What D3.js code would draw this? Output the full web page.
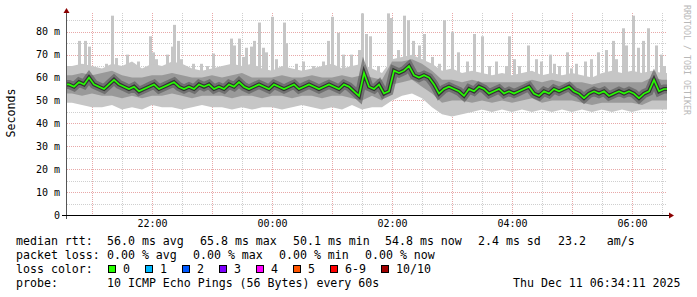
<!DOCTYPE html>
<html>
<head>
<meta charset="utf-8">
<script src="https://cdn.jsdelivr.net/npm/d3@7"></script>
<style>
  html, body { margin: 0; padding: 0; background: #fff; }
  svg { display: block; }
  text { font-family: "DejaVu Sans Mono", monospace; fill: #000; }
</style>
</head>
<body>
<svg id="chart" width="697" height="297"></svg>
<script>
// ---- data ----
const startTime = new Date(2025, 11, 10, 20, 35);
const endTime = new Date(2025, 11, 11, 6, 35);

// median rtt (ms), one value per 5 minutes
const medianRtt = [
  57, 56, 58, 57, 60, 57, 56, 55, 57, 59,
  57, 56, 55, 56, 54, 55, 56, 57, 55, 56,
  57, 58, 56, 55, 56, 55, 57, 56, 57, 55,
  56, 55, 57, 56, 58, 56, 55, 56, 57, 56,
  55, 57, 56, 55, 56, 57, 55, 56, 57, 56,
  55, 56, 57, 56, 55, 57, 56, 54, 52, 62,
  56, 55, 57, 53, 54, 63, 62, 63, 65, 61,
  60, 61, 60, 57, 53, 55, 56, 55, 54, 52,
  55, 54, 56, 55, 53, 54, 55, 53, 54, 53,
  54, 55, 56, 53, 52, 54, 53, 55, 54, 55,
  56, 54, 53, 51, 53, 54, 53, 54, 52, 53,
  54, 53, 54, 53, 51, 53, 54, 59, 54, 55
];

// smoke envelope (ms), one value per 10 minutes
const smokeMin = [
  49, 48, 47, 47, 48, 46, 47, 46, 48, 47,
  47, 46, 47, 48, 47, 47, 46, 47, 46, 47,
  47, 46, 47, 48, 47, 46, 47, 46, 48, 46,
  47, 47, 50, 52, 53, 51, 47, 44, 43, 44,
  45, 46, 45, 46, 45, 46, 45, 46, 45, 46,
  45, 46, 45, 46, 45, 46, 45, 46, 46, 46
];
const smokeMax = [
  65, 66, 65, 64, 66, 65, 67, 64, 66, 65,
  67, 66, 64, 63, 64, 65, 66, 65, 66, 64,
  63, 65, 64, 63, 64, 65, 66, 64, 65, 66,
  64, 62, 68, 69, 70, 68, 66, 63, 64, 62,
  63, 62, 61, 62, 61, 62, 63, 61, 62, 61,
  62, 61, 60, 62, 63, 62, 63, 62, 63, 62
];
const bandLo = [
  53, 52, 53, 52, 52, 51, 52, 51, 52, 52,
  53, 52, 51, 52, 52, 52, 51, 52, 52, 51,
  52, 52, 51, 52, 52, 51, 52, 52, 51, 50,
  52, 50, 57, 58, 59, 56, 53, 49, 50, 50,
  49, 50, 49, 50, 49, 50, 51, 49, 50, 50,
  50, 49, 48, 49, 49, 49, 49, 48, 50, 50
];
const bandHi = [
  61, 62, 61, 62, 63, 61, 60, 60, 61, 61,
  62, 61, 60, 60, 61, 60, 61, 62, 60, 60,
  60, 61, 60, 60, 61, 60, 60, 61, 60, 61,
  60, 59, 67, 67, 68, 66, 63, 59, 59, 58,
  59, 58, 58, 58, 58, 58, 59, 58, 59, 58,
  58, 58, 57, 58, 58, 58, 58, 58, 60, 59
];

// single slow pings sticking out of the smoke: minute after start, top (ms)
const spikeMinute = [
  12, 18, 22, 39, 45, 49, 54, 60, 66, 71, 83, 86, 89, 100, 105, 107, 111, 114, 126, 134, 140, 146,
  152, 164, 167, 172, 176, 179, 184, 187, 192, 196, 199, 205, 209, 217, 219, 229, 236, 246, 256, 261, 265, 271, 276, 284, 292, 295, 299,
  303, 311, 321, 324, 331, 337, 341, 346, 352, 357, 365, 372, 377, 385, 391, 400, 407, 415, 422, 429, 439, 442, 447,
  452, 461, 469, 474, 483, 487, 492, 500, 504, 509, 518, 524, 531, 539, 546, 549, 556, 559, 566, 571, 576, 581, 589, 594, 597
];
const spikeTop = [
  76, 76, 73.5, 66, 87, 68.5, 65, 70, 66, 67, 78, 71, 68, 70, 73.5, 83, 76, 68, 66, 66, 65, 70.5,
  64, 77, 74, 77, 69, 73, 73.5, 76, 84, 73, 71, 86.5, 68, 84, 75, 66, 67, 65, 67, 76, 86.5, 79.5, 70, 70, 72, 88, 79,
  78, 65, 88, 86, 72, 87, 85, 76, 74, 79, 69, 66, 85, 80, 71, 67, 79, 78, 65, 67, 65, 78, 68,
  65, 74, 68, 67, 70, 66, 65, 71, 64, 66, 67, 68, 71, 72, 76, 68, 81.5, 74, 87, 73, 76, 81.5, 74, 70, 65
];

const yTicks = [0, 10, 20, 30, 40, 50, 60, 70, 80];

const statsRow = [
  [16, "median rtt:"], [107, "56.0 ms avg"], [200, "65.8 ms max"], [293, "50.1 ms min"],
  [385, "54.8 ms now"], [478, "2.4 ms sd"], [558, "23.2   am/s"]
];
const lossRow = [
  [16, "packet loss:"], [107, "0.00 % avg"], [193, "0.00 % max"], [279, "0.00 % min"], [365, "0.00 % now"]
];
const lossLabels = ["0", "1", "2", "3", "4", "5", "6-9", "10/10"];
const lossColors = ["#26ff00", "#00b8ff", "#0059ff", "#7e00ff", "#ff00ff", "#ff5500", "#ff0000", "#a10000"];
const lossBoxX = [108, 145, 182, 219, 256, 293, 330, 381];
const probeRow = [[16, "probe:"], [107, "10 ICMP Echo Pings (56 Bytes) every 60s"], [513, "Thu Dec 11 06:34:11 2025"]];

// ---- scales ----
const svg = d3.select('#chart');
const x = d3.scaleTime().domain([startTime, endTime]).range([67, 667]);
const y = d3.scaleLinear().domain([0, 87.3]).range([215, 15]);

// points at the middle of each sampling step
function series(values, minutes) {
  return values.map(function (v, i) { return [d3.timeMinute.offset(startTime, i * minutes + minutes / 2), v]; });
}

// ---- grid ----
const grid = svg.append('g');
d3.range(5, 90, 5).forEach(function (v) {
  grid.append('line')
    .attr('x1', 67).attr('x2', 667).attr('y1', Math.round(y(v)) + 0.5).attr('y2', Math.round(y(v)) + 0.5)
    .attr('stroke', v % 10 === 0 ? '#e8a8a8' : '#cfcfcf').attr('stroke-dasharray', '1,1');
});
d3.timeMinute.every(30).range(startTime, endTime).forEach(function (t) {
  const px = Math.round(x(t)) + 0.5;
  grid.append('line')
    .attr('x1', px).attr('x2', px).attr('y1', 13).attr('y2', 215)
    .attr('stroke', t.getMinutes() === 0 ? '#e8a8a8' : '#cfcfcf').attr('stroke-dasharray', '1,1');
});

// ---- smoke ----
const plot = svg.append('g');
plot.selectAll('rect.spike').data(spikeMinute).enter().append('rect')
  .attr('class', 'spike')
  .attr('x', function (m) { return x(d3.timeMinute.offset(startTime, m)) - 1; })
  .attr('width', 3)
  .attr('y', function (m, i) { return y(spikeTop[i]); })
  .attr('height', function (m, i) { return y(56) - y(spikeTop[i]); })
  .attr('fill', '#c6c6c6');

const band = d3.area()
  .x(function (d) { return x(d.t); }).y0(function (d) { return y(d.lo); }).y1(function (d) { return y(d.hi); });

const envPts = series(smokeMax, 10).map(function (p, i) { return { t: p[0], hi: p[1], lo: smokeMin[i] }; });
envPts.unshift({ t: startTime, hi: smokeMax[0], lo: smokeMin[0] });
envPts.push({ t: endTime, hi: smokeMax[smokeMax.length - 1], lo: smokeMin[smokeMin.length - 1] });
plot.append('path').datum(envPts).attr('fill', '#c6c6c6').attr('d', band);

const bandPts = series(bandHi, 10).map(function (p, i) { return { t: p[0], hi: p[1], lo: bandLo[i] }; });
bandPts.unshift({ t: startTime, hi: bandHi[0], lo: bandLo[0] });
bandPts.push({ t: endTime, hi: bandHi[bandHi.length - 1], lo: bandLo[bandLo.length - 1] });
plot.append('path').datum(bandPts).attr('fill', '#999').attr('d', band);

const medLine = d3.line()
  .x(function (d) { return x(d[0]); }).y(function (d) { return y(d[1]); });
const medPts = series(medianRtt, 5);
medPts.unshift([startTime, medianRtt[0]]);
medPts.push([endTime, medianRtt[medianRtt.length - 1]]);
plot.append('path').datum(medPts)
  .attr('fill', 'none').attr('stroke', '#555').attr('stroke-width', 9).attr('stroke-opacity', 0.6)
  .attr('d', medLine);
plot.append('path').datum(medPts)
  .attr('fill', 'none').attr('stroke', '#1a1a1a').attr('stroke-width', 4).attr('stroke-opacity', 0.7)
  .attr('d', medLine);
plot.append('path').datum(medPts)
  .attr('fill', 'none').attr('stroke', '#26ff00').attr('stroke-width', 1.6)
  .attr('d', medLine);

// ---- axes ----
const yAxis = svg.append('g').attr('transform', 'translate(61,0)')
  .call(d3.axisLeft(y).tickValues(yTicks).tickSize(0).tickPadding(1)
    .tickFormat(function (v) { return v === 0 ? '0' : v + ' m'; }));
yAxis.select('.domain').remove();
yAxis.selectAll('text').style('font-family', '"DejaVu Sans Mono", monospace').style('font-size', '10px').attr('fill', '#000');

const xAxis = svg.append('g').attr('transform', 'translate(0,217)')
  .call(d3.axisBottom(x).ticks(d3.timeHour.every(2)).tickSize(0).tickPadding(3)
    .tickFormat(d3.timeFormat('%H:%M')));
xAxis.select('.domain').remove();
xAxis.selectAll('text').style('font-family', '"DejaVu Sans Mono", monospace').style('font-size', '10px').attr('fill', '#000');

svg.append('line').attr('x1', 66.5).attr('x2', 66.5).attr('y1', 12).attr('y2', 219).attr('stroke', '#555');
svg.append('line').attr('x1', 62).attr('x2', 670).attr('y1', 215.5).attr('y2', 215.5).attr('stroke', '#000');
svg.append('path').attr('d', 'M63.5,13 L66.5,8 L69.5,13 Z').attr('fill', '#8b0000');
svg.append('path').attr('d', 'M669,212.5 L674,215.5 L669,218.5 Z').attr('fill', '#8b0000');

svg.append('text').attr('transform', 'translate(15,113) rotate(-90)')
  .attr('text-anchor', 'middle').style('font-size', '11.6px').text('Seconds');

svg.append('text').attr('transform', 'translate(684,5) rotate(90)')
  .style('font-size', '8.3px').style('fill', '#b8b8b8').text('RRDTOOL / TOBI OETIKER');

// ---- legend ----
const legend = svg.append('g').style('font-size', '11.6px');
function row(items, baseline) {
  items.forEach(function (it) {
    legend.append('text').attr('x', it[0]).attr('y', baseline).attr('xml:space', 'preserve')
      .style('white-space', 'pre').text(it[1]);
  });
}
row(statsRow, 245);
row(lossRow, 259);
row([[16, 'loss color:']], 273);
lossLabels.forEach(function (lab, i) {
  legend.append('rect').attr('x', lossBoxX[i] + 0.5).attr('y', 265.5).attr('width', 7).attr('height', 7)
    .attr('fill', lossColors[i]).attr('stroke', '#000');
  legend.append('text').attr('x', lossBoxX[i] + 15).attr('y', 273).text(lab);
});
row(probeRow, 287);
</script>
</body>
</html>
